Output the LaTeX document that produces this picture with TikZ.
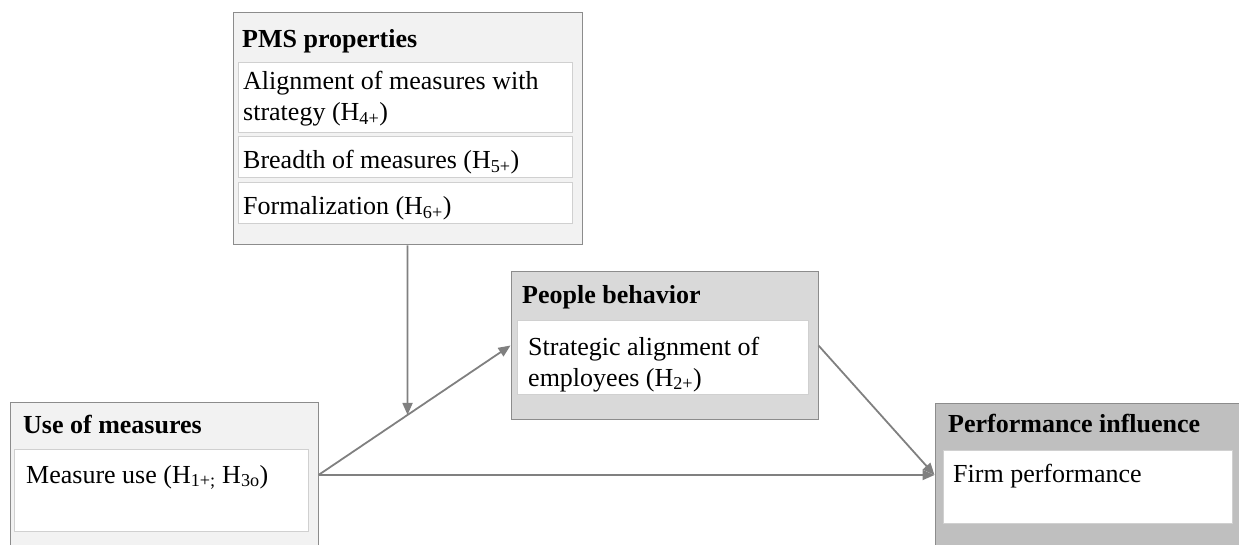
\documentclass[tikz,border=0pt]{standalone}
\usepackage{fontspec}
\setmainfont{Liberation Serif}
\usetikzlibrary{arrows.meta,fit}
\definecolor{edgegray}{HTML}{8C8C8C}
\definecolor{inneredge}{HTML}{D0D0D0}
\definecolor{lightfill}{HTML}{F2F2F2}
\definecolor{midfill}{HTML}{D9D9D9}
\definecolor{darkfill}{HTML}{BFBFBF}
\definecolor{linkgray}{HTML}{808080}
\begin{document}
\begin{tikzpicture}[x=1pt,y=-1pt,
  font=\fontsize{26}{31}\selectfont,
  panel/.style={draw=edgegray, line width=1pt, inner sep=0pt},
  itembox/.style={draw=inneredge, line width=1pt, fill=white, inner sep=0pt},
  txt/.style={inner sep=0pt, anchor=base west},
  head/.style={txt, font=\fontsize{26}{31}\selectfont\bfseries},
  link/.style={draw=linkgray, line width=1.8pt,
    -{Triangle[length=12pt,width=10pt]}}]
\useasboundingbox (0,0) rectangle (1239,545);

% PMS properties panel
\node[panel, fill=lightfill, fit={(233,13) (582,245)}] (pms) {};
\node[head] (pmsT) at (242,48) {PMS properties};
\node[itembox, fit={(238,63) (572,133)}] (pms1) {};
\node[itembox, fit={(238,137) (572,178)}] (pms2) {};
\node[itembox, fit={(238,183) (572,224)}] (pms3) {};
\node[txt] (pms1a) at (243,90) {Alignment of measures with};
\node[txt] (pms1b) at (243,121) {strategy (H\textsubscript{4+})};
\node[txt] (pms2a) at (243,169) {Breadth of measures (H\textsubscript{5+})};
\node[txt] (pms3a) at (243,215) {Formalization (H\textsubscript{6+})};

% Use of measures panel
\node[panel, fill=lightfill, fit={(10,402) (318,548)}] (use) {};
\node[head] (useT) at (23,433) {Use of measures};
\node[itembox, fit={(14,449) (308,531)}] (use1) {};
\node[txt] (use1a) at (26,483) {Measure use (H\textsubscript{1+;} H\textsubscript{3o})};

% People behavior panel
\node[panel, fill=midfill, fit={(511,272) (818,419)}] (people) {};
\node[head] (peopleT) at (522,303) {People behavior};
\node[itembox, fit={(517,320) (808,394)}] (people1) {};
\node[txt] (people1a) at (528,355) {Strategic alignment of};
\node[txt] (people1b) at (528,386) {employees (H\textsubscript{2+})};

% Performance influence panel
\node[panel, fill=darkfill, fit={(935,403) (1245,547)}] (perf) {};
\node[head] (perfT) at (948,432) {Performance influence};
\node[itembox, fit={(943,450) (1232,523)}] (perf1) {};
\node[txt] (perf1a) at (953,482) {Firm performance};

% connectors
\path (use.east) -- (people.west) coordinate[pos=0.4637] (mod);
\draw[link] (use.east) -- (people.west);
\draw[link] (use.east) -- (perf.west);
\draw[link] (people.east) -- (perf.west);
\draw[link] (pms.south) -- (mod);
\end{tikzpicture}
\end{document}
